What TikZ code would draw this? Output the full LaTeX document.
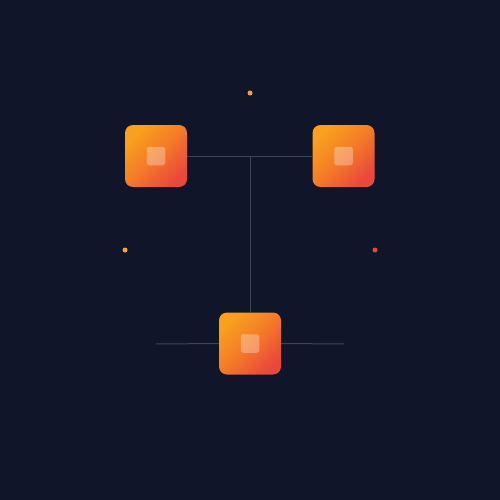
\documentclass[tikz,border=0pt]{standalone}
\usetikzlibrary{calc}
\definecolor{bg}{HTML}{11152A}
\definecolor{linec}{HTML}{3A4558}
\definecolor{gA}{HTML}{F9A11C}
\definecolor{gB}{HTML}{F47A28}
\definecolor{gC}{HTML}{EA483C}
\definecolor{dotO}{HTML}{F5A623}
\definecolor{dotR}{HTML}{E8453C}
\tikzset{
  tile/.style={minimum size=62pt, inner sep=0pt, rounded corners=8pt,
    top color=gA, bottom color=gC, middle color=gB, shading angle=45},
  core/.style={minimum size=18.5pt, inner sep=0pt, rounded corners=2.5pt,
    fill=white, fill opacity=0.3},
  link/.style={draw=linec, line width=1pt},
  dot/.style={circle, inner sep=0pt, minimum size=5pt}
}
\begin{document}
\begin{tikzpicture}[x=1pt,y=-1pt]
\fill[bg] (0,0) rectangle (500,500);
\useasboundingbox (0,0) rectangle (500,500);
\coordinate (j1) at (250,156);
\coordinate (l3) at (156,344);
\coordinate (r3) at (344,344);
\node[tile] (t1) at (156,156) {};
\node[tile] (t2) at (343.5,156) {};
\node[tile] (t3) at (250,343.5) {};
\draw[link] (t1.east) -- (t2.west);
\draw[link] (j1) -- (t3.north);
\draw[link] (l3) -- (t3.west);
\draw[link] (t3.east) -- (r3);
\node[core] (c1) at (t1) {};
\node[core] (c2) at (t2) {};
\node[core] (c3) at (t3) {};
\node[dot, fill=dotO] (d1) at (250,93) {};
\node[dot, fill=dotO] (d2) at (125,250) {};
\node[dot, fill=dotR] (d3) at (375,250) {};
\end{tikzpicture}
\end{document}
